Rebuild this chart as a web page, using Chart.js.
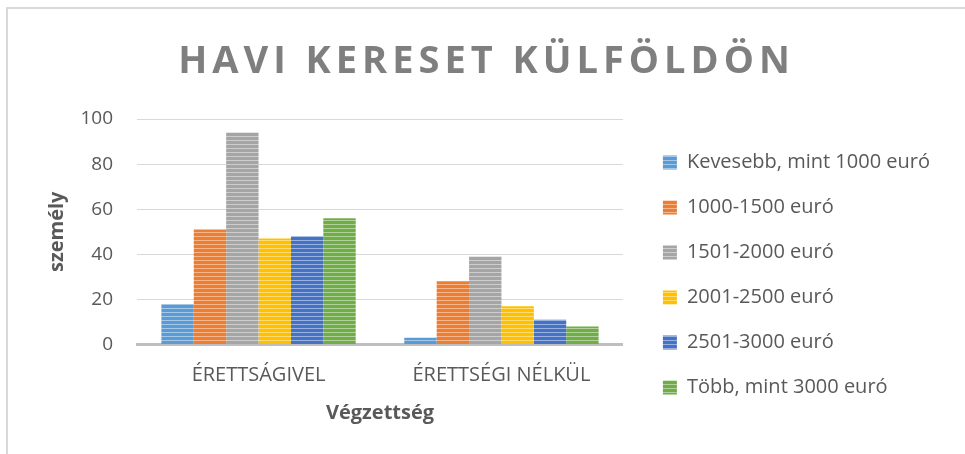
<!DOCTYPE html>
<html>
<head>
<meta charset="utf-8">
<script src="https://cdn.jsdelivr.net/npm/chart.js@4.4.0/dist/chart.umd.min.js"></script>
<style>
    html, body { margin: 0; padding: 0; background: #fff; }
    #wrap { position: relative; width: 965px; height: 454px; }
    #frame { position: absolute; left: 6px; top: 7px; right: -5px; bottom: -5px; border-top: 2px solid #d9d9d9; border-left: 2px solid #d9d9d9; }
    canvas { position: absolute; left: 0; top: 0; }
</style>
</head>
<body>
<div id="wrap">
    <div id="frame"></div>
    <canvas id="earningsChart" width="965" height="454"></canvas>
</div>
<script>
// Data
const chartTitle = 'HAVI KERESET KÜLFÖLDÖN';
const categories = ['ÉRETTSÁGIVEL', 'ÉRETTSÉGI NÉLKÜL'];
const seriesNames = ['Kevesebb, mint 1000 euró', '1000-1500 euró', '1501-2000 euró', '2001-2500 euró', '2501-3000 euró', 'Több, mint 3000 euró'];
const under1000 = [18, 3];
const from1000to1500 = [51, 28];
const from1501to2000 = [94, 39];
const from2001to2500 = [47, 17];
const from2501to3000 = [48, 11];
const over3000 = [56, 8];
const yTicks = [0, 20, 40, 60, 80, 100];

const seriesValues = [under1000, from1000to1500, from1501to2000, from2001to2500, from2501to3000, over3000];
const seriesColors = ['#5b9bd5', '#ed7d31', '#a5a5a5', '#ffc000', '#4472c4', '#70ad47'];

const legendShift = 15;

// horizontal stripe fill like the Excel pattern
function stripes(color) {
    const c = document.createElement('canvas');
    c.width = 8;
    c.height = 4;
    const g = c.getContext('2d');
    g.fillStyle = color;
    g.fillRect(0, 0, 8, 4);
    g.fillStyle = 'rgba(255,255,255,0.45)';
    g.fillRect(0, 0, 8, 1);
    return g.createPattern(c, 'repeat');
}

// title with letter spacing (the built-in title can't do that)
const spacedTitle = {
    id: 'spacedTitle',
    afterDraw(chart) {
        const ctx = chart.ctx;
        ctx.save();
        ctx.font = 'bold 38px "Open Sans"';
        ctx.fillStyle = '#7f7f7f';
        ctx.letterSpacing = '5px';
        ctx.textAlign = 'center';
        ctx.textBaseline = 'alphabetic';
        ctx.fillText(chartTitle, 484 + 2.5, 73);
        ctx.restore();
    }
};

// wider gap between plot and legend
const legendGap = {
    id: 'legendGap',
    beforeUpdate(chart) {
        const lg = chart.legend;
        if (lg && !lg._patched) {
            const fit = lg.fit;
            lg.fit = function () {
                fit.call(this);
                this.width += legendShift;
            };
            lg._patched = true;
        }
    },
    afterLayout(chart) {
        chart.legend.left += legendShift;
    }
};

function drawChart() {
    const ctx = document.getElementById('earningsChart');

    new Chart(ctx, {
        type: 'bar',
        data: {
            labels: categories,
            datasets: seriesNames.map((name, i) => ({
                label: name,
                data: seriesValues[i],
                backgroundColor: stripes(seriesColors[i]),
                borderWidth: 0,
                barPercentage: 1,
                categoryPercentage: 0.8
            }))
        },
        options: {
            responsive: false,
            animation: false,
            layout: {
                padding: { top: 119, left: 45, right: 25, bottom: 29 }
            },
            plugins: {
                title: { display: false },
                tooltip: { enabled: false },
                legend: {
                    position: 'right',
                    maxWidth: 400,
                    title: {
                        display: true,
                        text: ' ',
                        padding: 0,
                        font: { size: 5 }
                    },
                    labels: {
                        boxWidth: 14,
                        boxHeight: 14,
                        padding: 25,
                        color: '#595959',
                        font: { family: '"Open Sans"', size: 20 },
                        generateLabels(chart) {
                            return chart.data.datasets.map((ds, i) => ({
                                text: ds.label,
                                fillStyle: stripes(seriesColors[i]),
                                strokeStyle: 'transparent',
                                lineWidth: 0,
                                fontColor: '#595959',
                                datasetIndex: i
                            }));
                        }
                    }
                }
            },
            scales: {
                x: {
                    grid: { display: false, drawTicks: false },
                    border: { color: '#bfbfbf', width: 3 },
                    ticks: {
                        color: '#595959',
                        padding: 18.5,
                        font: { family: '"Open Sans"', size: 20 }
                    },
                    title: {
                        display: true,
                        text: 'Végzettség',
                        color: '#595959',
                        font: { family: '"Open Sans"', size: 20, weight: 'bold' },
                        padding: { top: -4.5, bottom: 0 }
                    }
                },
                y: {
                    min: 0,
                    max: 100,
                    afterBuildTicks(scale) {
                        scale.ticks = yTicks.map(v => ({ value: v }));
                    },
                    grid: { color: '#d9d9d9', lineWidth: 1, drawTicks: false },
                    border: { display: false },
                    ticks: {
                        color: '#595959',
                        padding: 24,
                        font: { family: '"Open Sans"', size: 19 }
                    },
                    title: {
                        display: true,
                        text: 'személy',
                        color: '#595959',
                        font: { family: '"Open Sans"', size: 20, weight: 'bold' },
                        padding: { top: 0, bottom: -12.5 }
                    }
                }
            }
        },
        plugins: [spacedTitle, legendGap]
    });
}

Promise.all([
    document.fonts.load('20px "Open Sans"'),
    document.fonts.load('bold 20px "Open Sans"'),
    document.fonts.load('bold 38px "Open Sans"')
]).then(drawChart, drawChart);
</script>
</body>
</html>
